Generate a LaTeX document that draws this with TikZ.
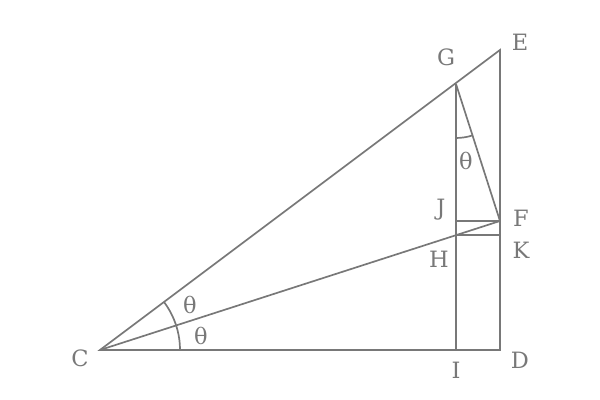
\documentclass[tikz,border=0pt]{standalone}
\usepackage{fontspec}
\setmainfont{DejaVu Serif}
\usetikzlibrary{calc}
\definecolor{linegray}{HTML}{787878}

\begin{document}
\begin{tikzpicture}[line width=1.2pt, draw=linegray,
  lbl/.style={text=linegray, font=\fontsize{16}{18}\selectfont, inner sep=1pt}]
\useasboundingbox (0,0) rectangle (15,10);

\coordinate (C) at (2.5,1.25);
\coordinate (D) at (12.5,1.25);
\coordinate (E) at (12.5,8.75);
\coordinate (G) at (11.4,7.9);
\coordinate (I) at (11.4,1.25);
\coordinate (F) at (12.5,4.475);
\coordinate (J) at (F -| G);
\coordinate (H) at (intersection of C--F and G--I);
\coordinate (K) at (H -| D);

\draw (C) -- (D) -- (E) -- cycle;
\draw (G) -- (I);
\draw (C) -- (F);
\draw (G) -- (F);
\draw (J) -- (F);
\draw (H) -- (K);

% angle marks
\draw ($(C)+(0:2)$) arc (0:36.87:2);
\draw ($(G)+(-90:1.35)$) arc (-90:-72.2:1.35);

\node[lbl] (lC) at (2.0,1.05) {C};
\node[lbl] (lD) at (13.0,1.0) {D};
\node[lbl] (lE) at (13.0,8.95) {E};
\node[lbl] (lG) at (11.15,8.575) {G};
\node[lbl] (lI) at (11.4,0.75) {I};
\node[lbl] (lF) at (13.025,4.55) {F};
\node[lbl] (lJ) at (11.025,4.75) {J};
\node[lbl] (lK) at (13.025,3.75) {K};
\node[lbl] (lH) at (10.975,3.525) {H};

\node[lbl] (t1) at (4.75,2.375) {θ};
\node[lbl] (t2) at (5.025,1.6) {θ};
\node[lbl] (t3) at (11.65,5.975) {θ};
\end{tikzpicture}
\end{document}
